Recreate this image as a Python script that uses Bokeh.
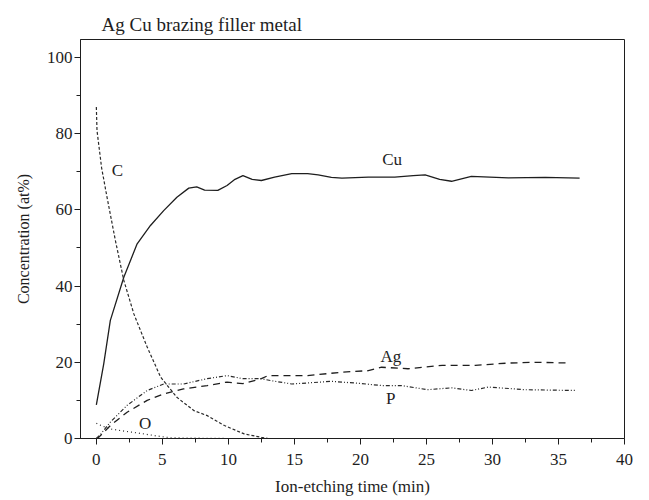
from bokeh.plotting import figure
from bokeh.embed import file_html
from bokeh.resources import INLINE
from bokeh.models import FixedTicker, Range1d, Label

cu_x = [0, 0.56, 1.06, 2.08, 3.09, 4.1, 5.1, 6.1, 7.0, 7.6, 8.2, 9.2, 9.9, 10.5, 11.1, 11.8, 12.5, 13.5, 14.8, 16.0, 16.8, 17.8, 18.6, 20.6, 22.6, 24.0, 24.9, 26.0, 26.9, 28.4, 31.2, 34.0, 36.6]
cu_y = [8.8, 19.6, 31.0, 42.3, 51.1, 55.9, 59.8, 63.3, 65.7, 66.0, 65.2, 65.1, 66.4, 68.0, 69.0, 68.0, 67.7, 68.6, 69.5, 69.5, 69.2, 68.5, 68.3, 68.6, 68.6, 69.0, 69.2, 68.0, 67.5, 68.8, 68.4, 68.5, 68.3]

c_x = [0, 0.05, 0.4, 0.81, 1.44, 2.08, 2.84, 3.85, 4.87, 6.1, 7.4, 8.4, 9.7, 11.2, 12.5, 13.0]
c_y = [87.0, 80.8, 71.0, 63.3, 52.0, 41.5, 32.7, 24.0, 16.1, 10.8, 7.3, 6.0, 3.4, 1.2, 0.3, 0.0]

o_x = [0, 0.5, 1.06, 2.0, 3.0, 3.6, 4.5, 5.6, 7.0, 8.5, 10.0]
o_y = [4.0, 3.2, 2.5, 2.0, 1.5, 1.2, 0.7, 0.2, 0.1, 0.05, 0.0]

ag_x = [0, 0.18, 1.06, 2.33, 3.85, 5.1, 6.6, 8.4, 9.9, 11.1, 12.5, 13.0, 16.0, 18.6, 20.6, 21.6, 23.6, 26.2, 28.7, 31.2, 33.3, 35.8]
ag_y = [0.0, 0.3, 3.4, 6.9, 10.0, 11.7, 13.0, 13.9, 14.8, 14.4, 15.7, 16.5, 16.5, 17.4, 17.8, 18.7, 18.3, 19.2, 19.2, 19.8, 20.0, 19.8]

p_x = [0, 0.3, 1.06, 2.33, 3.85, 5.1, 6.6, 8.4, 9.9, 11.1, 12.5, 13.2, 14.8, 17.8, 19.8, 21.6, 23.1, 25.1, 26.9, 28.4, 29.7, 32.5, 36.3]
p_y = [0.0, 1.0, 4.3, 8.7, 12.6, 14.3, 14.3, 15.7, 16.5, 15.7, 15.7, 15.2, 14.3, 15.0, 14.5, 13.9, 13.9, 12.8, 13.3, 12.6, 13.5, 12.8, 12.6]

x_ticks = [0, 5, 10, 15, 20, 25, 30, 35, 40]
y_ticks = [0, 20, 40, 60, 80, 100]

labels = [("Cu", 22.4, 73.2), ("C", 1.6, 70.3), ("Ag", 22.3, 21.5), ("P", 22.3, 10.5), ("O", 3.7, 3.9)]

FONT = "Liberation Serif"
INK = "#1e1e1e"

p = figure(frame_width=544, frame_height=399, output_backend="svg", toolbar_location=None,
           x_range=Range1d(-1.2, 40), y_range=Range1d(0, 104.7),
           min_border_left=80, min_border_right=25, min_border_bottom=55, min_border_top=39)

p.title.text = "Ag Cu brazing filler metal"
p.title.text_font = FONT
p.title.text_font_size = "19px"
p.title.text_font_style = "normal"
p.title.text_color = INK
p.title.offset = 21

p.grid.visible = False
p.outline_line_color = INK
p.outline_line_width = 1
p.background_fill_color = "white"

for ax in (p.xaxis[0], p.yaxis[0]):
    ax.axis_line_color = INK
    ax.major_tick_line_color = INK
    ax.minor_tick_line_color = INK
    ax.major_tick_out = 6
    ax.major_tick_in = 0
    ax.minor_tick_out = 4
    ax.minor_tick_in = 0
    ax.major_label_text_font = FONT
    ax.major_label_text_font_size = "17px"
    ax.major_label_text_color = INK
    ax.axis_label_text_font = FONT
    ax.axis_label_text_font_style = "normal"
    ax.axis_label_text_color = INK

p.xaxis.ticker = FixedTicker(ticks=x_ticks, minor_ticks=[v + 2.5 for v in x_ticks[:-1]])
p.yaxis.ticker = FixedTicker(ticks=y_ticks, minor_ticks=[v + 10 for v in y_ticks[:-1]])
p.xaxis.axis_label = "Ion-etching time (min)"
p.yaxis.axis_label = "Concentration (at%)"
p.xaxis.axis_label_text_font_size = "17px"
p.yaxis.axis_label_text_font_size = "16px"
p.xaxis.major_label_standoff = 9
p.yaxis.major_label_standoff = 2
p.xaxis.axis_label_standoff = 9
p.yaxis.axis_label_standoff = 12

p.line(cu_x, cu_y, line_color=INK, line_width=1.3)
p.line(c_x, c_y, line_color="#2a2a2a", line_width=1.2, line_dash="3 2")
p.line(o_x, o_y, line_color="#2a2a2a", line_width=1.2, line_dash="1 3")
p.line(ag_x, ag_y, line_color=INK, line_width=1.3, line_dash="7 5")
p.line(p_x, p_y, line_color="#2a2a2a", line_width=1.2, line_dash="4 2 1 2 1 2")

for t, x, y in labels:
    p.add_layout(Label(x=x, y=y, text=t, text_font=FONT, text_font_size="17px",
                       text_color=INK, text_align="center", text_baseline="middle"))

open("out.html", "w").write(file_html(p, INLINE))
